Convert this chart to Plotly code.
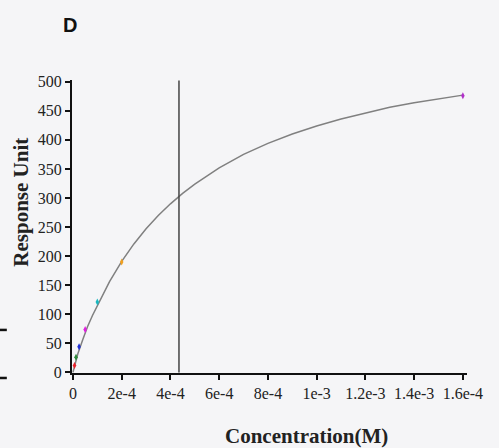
import plotly.graph_objects as go

# Measured points (concentration in M, response units)
conc = [6.25e-6, 1.25e-5, 2.5e-5, 5e-5, 1e-4, 2e-4, 1.6e-3]
resp = [12, 26, 44, 74, 121, 190, 476]
colors = ["#e8202a", "#2e8b3a", "#1f2fd6", "#e020e0", "#19b8c0", "#f0a020", "#b030c8"]

# Fitted curve
fit_conc = [0, 5e-6, 1e-5, 2e-5, 4e-5, 6e-5, 8e-5, 1e-4, 1.5e-4, 2e-4, 2.5e-4, 3e-4,
            3.5e-4, 4e-4, 4.5e-4, 5e-4, 6e-4, 7e-4, 8e-4, 9e-4, 1e-3, 1.1e-3, 1.2e-3,
            1.3e-3, 1.4e-3, 1.5e-3, 1.6e-3]
fit_resp = [0, 9, 17, 32, 56, 79, 98, 115, 156, 191, 221, 247,
            270, 290, 308, 324, 352, 375, 394, 410, 424, 436, 446,
            456, 464, 471, 477]

kd_line = 4.35e-4

x_tickvals = [0, 2e-4, 4e-4, 6e-4, 8e-4, 1e-3, 1.2e-3, 1.4e-3, 1.6e-3]
x_ticktext = ["0", "2e-4", "4e-4", "6e-4", "8e-4", "1e-3", "1.2e-3", "1.4e-3", "1.6e-4"]
y_tickvals = [0, 50, 100, 150, 200, 250, 300, 350, 400, 450, 500]

fig = go.Figure()
fig.add_trace(go.Scatter(x=fit_conc, y=fit_resp, mode="lines",
                         line=dict(color="#808080", width=1.5), showlegend=False,
                         hoverinfo="skip"))
fig.add_trace(go.Scatter(x=[kd_line, kd_line], y=[0, 502], mode="lines",
                         line=dict(color="#454545", width=1.5), showlegend=False,
                         hoverinfo="skip"))
fig.add_trace(go.Scatter(x=conc, y=resp, mode="markers",
                         marker=dict(color=colors, size=5, symbol="diamond-tall"),
                         showlegend=False))

serif = "Liberation Serif, Times New Roman, serif"
fig.update_layout(
    width=499, height=448,
    margin=dict(l=72, r=32, t=80, b=75),
    paper_bgcolor="#f5f5f7", plot_bgcolor="rgba(0,0,0,0)",
    font=dict(family=serif, size=16, color="#222"),
    xaxis=dict(range=[-4e-6, 1.617e-3], tickvals=x_tickvals, ticktext=x_ticktext,
               automargin=False,
               showgrid=False, zeroline=False, showline=True, linecolor="#111",
               linewidth=2, ticks="outside", ticklen=5, tickwidth=1.5,
               tickcolor="#111", tickfont=dict(family=serif, size=16, color="#222")),
    yaxis=dict(range=[-1, 503], tickvals=y_tickvals, automargin=False,
               showgrid=False, zeroline=False, showline=True, linecolor="#111",
               linewidth=2, ticks="outside", ticklen=5, tickwidth=1.5,
               tickcolor="#111", tickfont=dict(family=serif, size=16, color="#222")),
    annotations=[
        dict(text="<b>D</b>", xref="paper", yref="paper", x=-0.028, y=1.188,
             xanchor="left", yanchor="middle", showarrow=False,
             font=dict(family="Liberation Sans", size=20, color="#111")),
        dict(text="<b>Concentration(M)</b>", xref="paper", yref="paper",
             x=(306 - 72) / 395, y=-0.215, xanchor="center", yanchor="middle",
             showarrow=False, font=dict(family=serif, size=21, color="#222")),
        dict(text="<b>Response Unit</b>", xref="paper", yref="paper",
             x=-0.13, y=(373 - 202) / 293, xanchor="center", yanchor="middle",
             textangle=-90, showarrow=False,
             font=dict(family=serif, size=21, color="#222")),
    ],
    shapes=[
        dict(type="line", xref="paper", yref="paper", x0=-0.183, x1=-0.165,
             y0=0.147, y1=0.147, line=dict(color="#111", width=2.5)),
        dict(type="line", xref="paper", yref="paper", x0=-0.183, x1=-0.165,
             y0=-0.017, y1=-0.017, line=dict(color="#111", width=2.5)),
    ],
)

fig.write_html("out.html", config={"displayModeBar": False},
               post_script="document.body.style.margin='0';document.body.style.padding='0';")
